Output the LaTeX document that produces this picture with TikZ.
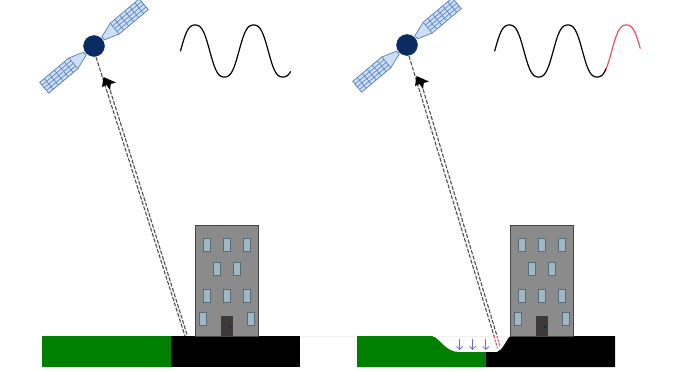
\documentclass[tikz,border=0pt]{standalone}
\usetikzlibrary{arrows.meta}
\definecolor{panelblue}{HTML}{CBE0F8}
\definecolor{panelline}{HTML}{6485B8}
\definecolor{satnavy}{HTML}{0B2C62}
\definecolor{wallgrey}{HTML}{8B8B8B}
\definecolor{wallline}{HTML}{454545}
\definecolor{glassblue}{HTML}{9FB8C3}
\definecolor{glassline}{HTML}{566C77}
\definecolor{doorgrey}{HTML}{3D3939}
\definecolor{grassgreen}{HTML}{007F00}
\definecolor{flowblue}{HTML}{6A6AE0}
\definecolor{signalred}{HTML}{E8535F}
\definecolor{signalgrey}{HTML}{505050}
\tikzset{
  x=1pt, y=-1pt,
  panelframe/.style={draw=panelline, line width=0.8pt, fill=panelblue},
  panelgrid/.style={draw=panelline, line width=0.7pt},
  satbody/.style={circle, fill=satnavy, draw=satnavy, inner sep=0pt, minimum size=21pt},
  wavepath/.style={line width=1.2pt, smooth, line cap=round},
  wall/.style={fill=wallgrey, draw=wallline, line width=0.9pt},
  glass/.style={fill=glassblue, draw=glassline, line width=1pt},
  groundgreen/.style={fill=grassgreen},
  groundblack/.style={fill=black},
  signal/.style={draw=signalgrey, line width=1.1pt, dash pattern=on 4pt off 1.6pt},
  signalfault/.style={draw=signalred, line width=1.1pt, dash pattern=on 2.5pt off 1.2pt},
  uptip/.style={fill=black},
  flow/.style={draw=flowblue, line width=0.8pt, -{Straight Barb[length=3pt,width=6pt]}},
  solarwing/.pic={
    \draw[panelframe] (12,-2) -- (27,-7) -- (65,-7) -- (65,7) -- (27,7) -- (12,2) -- cycle;
    \foreach \r in {33,39.5,46,52.5,59}
      \draw[panelgrid] (\r,-7) -- (\r,7);
    \foreach \w in {-3.5,0,3.5}
      \draw[panelgrid] (27,\w) -- (65,\w);
    \draw[panelgrid] (27,-7) -- (27,7);
  },
  tower/.pic={
    \draw[wall] (0,0) rectangle (63,111);
    \foreach \wx/\wy in {8.5/13,28.5/13,48.5/13,18.5/37,38.5/37,8.5/64.5,28.5/64.5,48.5/64.5,4.2/87.5,52.5/87.5}
      \draw[glass] (\wx,\wy) rectangle +(7.4,13.4);
    \fill[doorgrey] (26,91) rectangle (37.5,111);
    \fill[satnavy] (35,102) circle (1.3);
  }
}
% slightly squared-off sine used for the received waves
\newcommand{\wavey}[1]{51-28*(sin(6.154*(#1))+0.07*sin(18.462*(#1)))}
\begin{document}
\begin{tikzpicture}
\useasboundingbox (0,0) rectangle (683,372);

% left scene: ground, building
\fill[groundgreen] (42,336) rectangle (171,367);
\fill[groundblack] (171,336) rectangle (300,367);
\pic at (195,225) {tower};

% left scene: satellite
\pic[rotate=40] at (94,46) {solarwing};
\pic[rotate=220] at (94,46) {solarwing};
\node[satbody] (satL) at (94,46) {};

% left scene: double signal path with uplink arrow
\coordinate (startLa) at (96,57);
\coordinate (startLb) at (108.5,85);
\coordinate (groundLa) at (185,336);
\coordinate (groundLb) at (187.5,336);
\draw[signal] (startLa) -- (groundLa);
\draw[signal] (startLb) -- (groundLb);
\fill[uptip] (103.5,77) -- (116,82.5) -- (110.8,84) -- (110,90) -- (106.5,85) -- (102,87) -- cycle;

% left scene: received wave
\draw[wavepath] plot[domain=0:110, samples=110] ({180.5+\x}, {\wavey{\x}});

% right scene: ground with washed-out dip
\fill[groundgreen] (357,336) -- (433,336) .. controls (441,340) and (446,352) .. (459,352) -- (486,352) -- (486,367) -- (357,367) -- cycle;
\fill[groundblack] (486,352) -- (497,352) .. controls (503,350) and (505,342) .. (510,336) -- (615,336) -- (615,367) -- (486,367) -- cycle;
\pic at (510,225) {tower};

% faint original ground level
\draw[black!6, line width=0.6pt] (300,336) -- (357,336);
\draw[black!6, line width=0.6pt] (433,336) -- (510,336);

% settling arrows in the dip
\coordinate (dipAtop) at (459.5,339);
\coordinate (dipAbot) at (459.5,350);
\coordinate (dipBtop) at (472.7,339);
\coordinate (dipBbot) at (472.7,350);
\coordinate (dipCtop) at (485.8,339);
\coordinate (dipCbot) at (485.8,350);
\draw[flow] (dipAtop) -- (dipAbot);
\draw[flow] (dipBtop) -- (dipBbot);
\draw[flow] (dipCtop) -- (dipCbot);

% right scene: satellite
\pic[rotate=40] at (407,45) {solarwing};
\pic[rotate=220] at (407,45) {solarwing};
\node[satbody] (satR) at (407,45) {};

% right scene: double signal path, with its extra length in red
\coordinate (startRa) at (409,56);
\coordinate (startRb) at (421.5,84);
\coordinate (groundRa) at (494,336);
\coordinate (groundRb) at (497,336);
\coordinate (dipRa) at (497.3,348);
\coordinate (dipRb) at (500,347);
\draw[signal] (startRa) -- (groundRa);
\draw[signal] (startRb) -- (groundRb);
\draw[signalfault] (groundRa) -- (dipRa);
\draw[signalfault] (groundRb) -- (dipRb);
\fill[uptip] (416.5,76) -- (429,81.5) -- (423.8,83) -- (423,89) -- (419.5,84) -- (415,86) -- cycle;

% right scene: received wave with delayed part in red
\draw[wavepath] plot[domain=0:111.5, samples=110] ({494.7+\x}, {\wavey{\x}});
\draw[wavepath, draw=signalred] plot[domain=111.5:145.5, samples=40] ({494.7+\x}, {\wavey{\x}});
\end{tikzpicture}
\end{document}
